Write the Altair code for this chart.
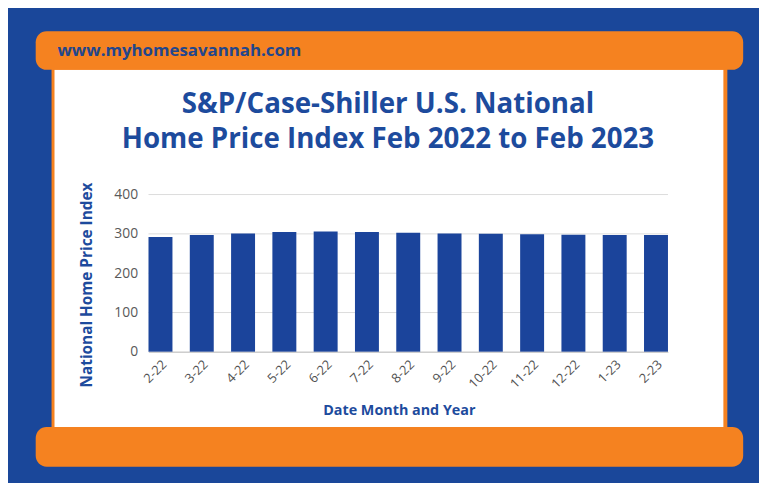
import altair as alt
import pandas as pd

months = ["2-22", "3-22", "4-22", "5-22", "6-22", "7-22", "8-22",
          "9-22", "10-22", "11-22", "12-22", "1-23", "2-23"]
index_values = [292, 297, 301, 305, 306, 305, 303, 301, 300, 299, 298, 297, 297]
y_ticks = [0, 100, 200, 300, 400]

site = "www.myhomesavannah.com"
title_lines = ["S&P/Case-Shiller U.S. National", "Home Price Index Feb 2022 to Feb 2023"]
x_title = "Date Month and Year"
y_title = "National Home Price Index"

BLUE_BG = "#1a479a"
ORANGE = "#f58220"
BAR = "#1b449b"
TXT_BLUE = "#1d4b9d"
FONT = "Open Sans"

W, H = 525, 159

df = pd.DataFrame({"month": months, "value": index_values})
grid_df = pd.DataFrame({"tick": y_ticks})
one = pd.DataFrame({"k": [0]})

def box(x1, x2, y1, y2, color, radius=0):
    return alt.Chart(one).mark_rect(color=color, cornerRadius=radius).encode(
        x=alt.value(x1), x2=alt.value(x2), y=alt.value(y1), y2=alt.value(y2)
    )

frame = box(-98, 585, -146, 255, ORANGE)
white = box(-95, 581, -126, 235, "white")
top_bar = box(-114, 601, -165, -126, ORANGE, 11)
bottom_bar = box(-114, 601, 235, 275, ORANGE, 11)

def label(txt, x, y, size, color, align="center", weight="bold"):
    return alt.Chart(one).mark_text(
        text=txt, align=align, baseline="middle", fontSize=size,
        fontWeight=weight, color=color, font=FONT
    ).encode(x=alt.value(x), y=alt.value(y))

url = label(site, -92, -145, 17, "#22468c", align="left")
t1 = label(title_lines[0], 242, -90, 28, TXT_BLUE)
t2 = label(title_lines[1], 242, -55, 28, TXT_BLUE)

yscale = alt.Scale(domain=[0, 400], nice=False)
yaxis = alt.Axis(title=y_title, values=y_ticks, grid=False, ticks=False,
                 domain=False, labelPadding=11, labelColor="#595959",
                 labelFontSize=14, labelFont=FONT,
                 titleFont=FONT, titleFontSize=15.5, titleColor=TXT_BLUE,
                 titleFontWeight="bold", titleX=-63, titleY=91,
                 titleBaseline="middle", titleAngle=-90, zindex=1)

grid = alt.Chart(grid_df).mark_rule(color="#dcdcdc", strokeWidth=1).encode(
    y=alt.Y("tick:Q", scale=yscale, axis=yaxis),
    x=alt.value(0), x2=alt.value(W),
)

bars = alt.Chart(df).mark_bar(color=BAR).encode(
    x=alt.X("month:N", sort=months,
            scale=alt.Scale(paddingInner=0.42, paddingOuter=0.0),
            axis=alt.Axis(title=x_title, labelAngle=-45, ticks=False,
                          domain=True, domainColor="#c8c8c8", labelPadding=6,
                          labelColor="#505050", labelFontSize=13, labelFont=FONT,
                          titleFont=FONT, titleFontSize=14.5, titleColor=TXT_BLUE,
                          titleFontWeight="bold", titleX=253, titleY=59,
                          titleBaseline="middle", titleAnchor="middle", zindex=1)),
    y=alt.Y("value:Q", scale=yscale, axis=yaxis),
)

chart = alt.layer(frame, white, top_bar, bottom_bar, url, t1, t2, grid, bars).properties(
    width=W, height=H,
    background=BLUE_BG,
    padding={"left": 142, "top": 186, "right": 92, "bottom": 130},
    autosize=alt.AutoSizeParams(type="none"),
).configure_view(stroke=None)

chart.save("out.html", embed_options={"renderer": "svg", "actions": False})
